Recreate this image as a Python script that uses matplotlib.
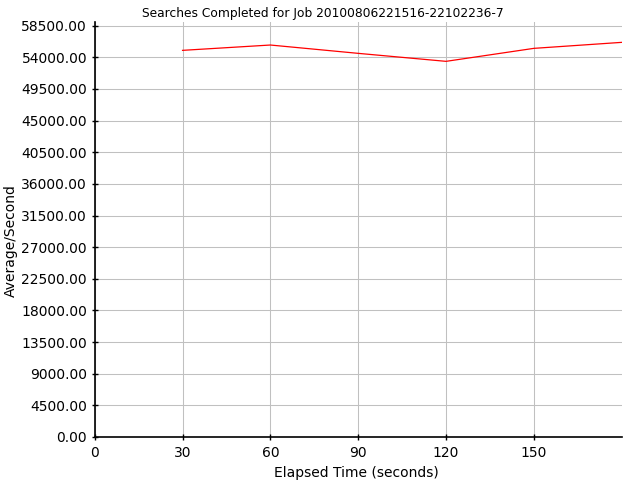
import matplotlib
matplotlib.use("Agg")
import matplotlib.pyplot as plt
from matplotlib.ticker import FixedLocator, FormatStrFormatter

# elapsed time (s) and average searches/second
elapsed = [30, 60, 90, 120, 150, 180]
avg_per_sec = [54995, 55753, 54568, 53431, 55279, 56132]

x_ticks = [0, 30, 60, 90, 120, 150]
y_ticks = [i * 4500 for i in range(14)]

title = "Searches Completed for Job 20100806221516-22102236-7"

fig = plt.figure(figsize=(6.4, 4.8), dpi=100)
ax = fig.add_axes([0.148, 0.0896, 0.8234, 0.8646])

ax.plot(elapsed, avg_per_sec, color="#ff0000", linewidth=0.9, zorder=3)

ax.set_xlim(0, 180)
ax.set_ylim(0, 59030)
ax.xaxis.set_major_locator(FixedLocator(x_ticks))
ax.yaxis.set_major_locator(FixedLocator(y_ticks))
ax.yaxis.set_major_formatter(FormatStrFormatter("%.2f"))

ax.grid(True, color="#c0c0c0", linewidth=0.75)
ax.set_axisbelow(True)
for side in ("top", "right"):
    ax.spines[side].set_visible(False)
for side in ("left", "bottom"):
    ax.spines[side].set_color("black")
    ax.spines[side].set_linewidth(1.2)

ax.tick_params(direction="inout", length=5, width=1, labelsize=10)
ax.tick_params(axis="x", pad=4)
ax.tick_params(axis="y", pad=3)

# axis titles placed as figure text so they sit where the reference has them
fig.text(0.557, 0.0146, "Elapsed Time (seconds)", ha="center", va="center", fontsize=10)
fig.text(0.0167, 0.498, "Average/Second", ha="center", va="center",
         rotation=90, fontsize=10)
fig.text(0.505, 0.972, title, ha="center", va="center", fontsize=8.8)

plt.savefig("out.png", dpi=100)
